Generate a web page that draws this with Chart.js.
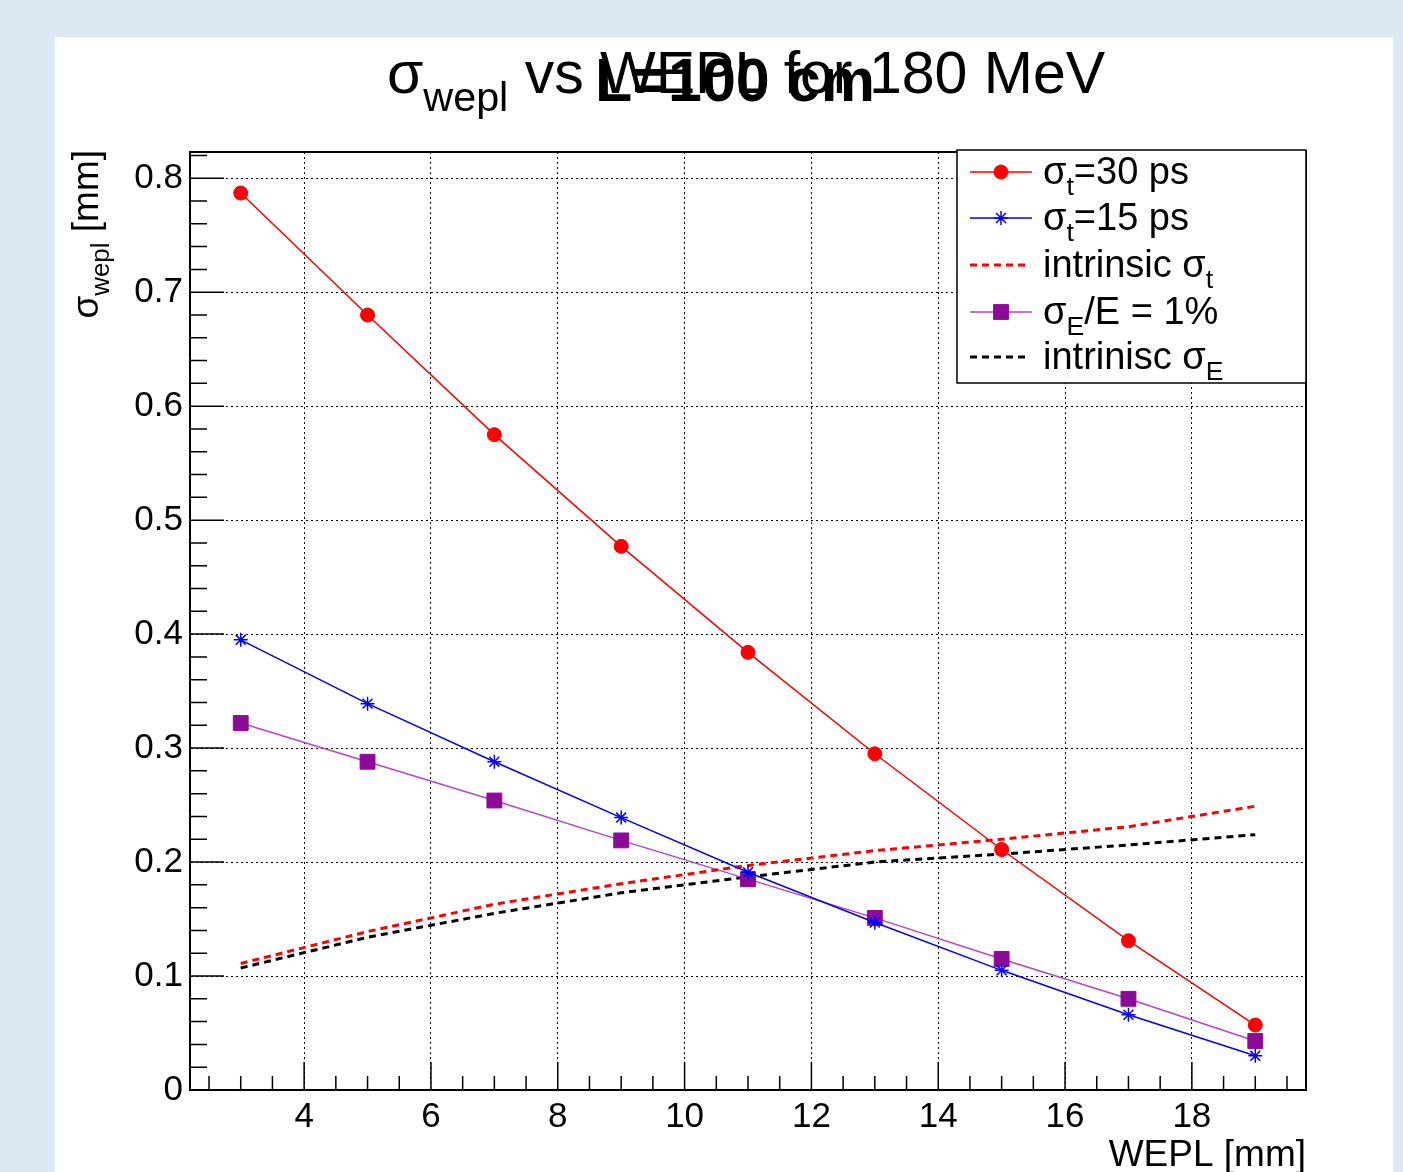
<!DOCTYPE html>
<html>
<head>
<meta charset="utf-8">
<script src="https://cdn.jsdelivr.net/npm/chart.js@4"></script>
<style>
  html, body { margin: 0; padding: 0; background: #dde8f4; }
  #wrap { position: relative; width: 1403px; height: 1172px; }
</style>
</head>
<body>
<div id="wrap"><canvas id="c" width="1403" height="1172"></canvas></div>
<script>
const FONT = "'Liberation Sans', Arial, Helvetica, sans-serif";

// values
const wepl = [3, 5, 7, 9, 11, 13, 15, 17, 19];
const sigma30ps = [0.787, 0.680, 0.575, 0.477, 0.384, 0.295, 0.211, 0.131, 0.057];
const sigma15ps = [0.395, 0.339, 0.288, 0.239, 0.191, 0.147, 0.105, 0.066, 0.030];
const intrinsicT = [0.111, 0.139, 0.163, 0.181, 0.197, 0.210, 0.220, 0.231, 0.249];
const sigmaE1pct = [0.322, 0.288, 0.254, 0.219, 0.185, 0.151, 0.115, 0.080, 0.043];
const intrinsicE = [0.107, 0.134, 0.155, 0.173, 0.187, 0.200, 0.207, 0.215, 0.224];

const xTicks = [4, 6, 8, 10, 12, 14, 16, 18];
const yTicks = [0, 0.1, 0.2, 0.3, 0.4, 0.5, 0.6, 0.7, 0.8];

// legend text, pieces marked sub are subscripts
const legendText = [
  [['σ'], ['t', 'sub'], ['=30 ps']],
  [['σ'], ['t', 'sub'], ['=15 ps']],
  [['intrinsic σ'], ['t', 'sub']],
  [['σ'], ['E', 'sub'], ['/E = 1%']],
  [['intrinisc σ'], ['E', 'sub']]
];

const pts = vals => wepl.map((x, i) => ({ x: x, y: vals[i] }));

// draw text made of normal + subscript pieces
function richWidth(ctx, parts, size, weight) {
  let w = 0;
  parts.forEach(p => {
    const s = p[1] === 'sub' ? size * 0.7 : size;
    ctx.font = (weight || '') + ' ' + s + 'px ' + FONT;
    w += ctx.measureText(p[0]).width;
  });
  return w;
}
function drawRich(ctx, parts, x, y, size, weight) {
  parts.forEach(p => {
    const sub = p[1] === 'sub';
    const s = sub ? size * 0.7 : size;
    ctx.font = (weight || '') + ' ' + s + 'px ' + FONT;
    ctx.fillText(p[0], x, sub ? y + size * 0.3 : y);
    x += ctx.measureText(p[0]).width;
  });
}

const background = {
  id: 'background',
  beforeDraw(chart) {
    const ctx = chart.ctx;
    ctx.save();
    ctx.fillStyle = '#dde8f4';
    ctx.fillRect(0, 0, chart.width, chart.height);
    ctx.fillStyle = '#fff';
    ctx.fillRect(55, 37, 1338, 1135);
    ctx.restore();
  }
};

const decorations = {
  id: 'decorations',
  afterDraw(chart) {
    const { ctx, chartArea: a, scales: { x, y } } = chart;
    ctx.save();

    // tick marks inside the frame
    ctx.strokeStyle = '#000';
    ctx.lineWidth = 1.5;
    ctx.beginPath();
    for (let k = 0; k <= 41; k++) {
      const py = y.getPixelForValue(k * 0.02);
      const len = k % 5 === 0 ? 34 : 17;
      ctx.moveTo(a.left, py);
      ctx.lineTo(a.left + len, py);
    }
    for (let k = 5; k <= 39; k++) {
      const px = x.getPixelForValue(k * 0.5);
      const len = k % 4 === 0 ? 28 : 14;
      ctx.moveTo(px, a.bottom);
      ctx.lineTo(px, a.bottom - len);
    }
    ctx.stroke();

    // frame
    ctx.lineWidth = 2;
    ctx.strokeRect(a.left, a.top, a.right - a.left, a.bottom - a.top);

    // axis titles
    ctx.fillStyle = '#000';
    ctx.textBaseline = 'alphabetic';
    ctx.font = '37px ' + FONT;
    ctx.textAlign = 'right';
    ctx.fillText('WEPL [mm]', a.right, 1166);
    ctx.textAlign = 'left';

    const yTitle = [['σ'], ['wepl', 'sub'], [' [mm]']];
    ctx.save();
    ctx.translate(98, a.top - 2);
    ctx.rotate(-Math.PI / 2);
    drawRich(ctx, yTitle, -richWidth(ctx, yTitle, 37), 0, 37);
    ctx.restore();

    // title with overprinted label
    const title = [['σ'], ['wepl', 'sub'], [' vs WEPL for 180 MeV']];
    const tw = richWidth(ctx, title, 59);
    drawRich(ctx, title, 746 - tw / 2, 93, 59);
    ctx.font = 'bold 61px ' + FONT;
    ctx.textAlign = 'center';
    ctx.fillText('L=100 cm', 735, 101);
    ctx.textAlign = 'left';

    // legend box
    const lx = 957, ly = 150, lw = 349, lh = 233;
    ctx.fillStyle = '#fff';
    ctx.fillRect(lx, ly, lw, lh);
    ctx.lineWidth = 1.5;
    ctx.strokeStyle = '#000';
    ctx.strokeRect(lx, ly, lw, lh);
    const rows = [172, 218, 265, 312, 357];
    chart.data.datasets.forEach((ds, i) => {
      const cy = rows[i];
      ctx.save();
      ctx.strokeStyle = ds.borderColor;
      ctx.lineWidth = ds.borderWidth;
      ctx.setLineDash(ds.borderDash || []);
      ctx.beginPath();
      ctx.moveTo(970, cy);
      ctx.lineTo(ds.borderDash ? 1028 : 1032, cy);
      ctx.stroke();
      ctx.restore();
      if (ds.pointRadius > 0) {
        ctx.save();
        ctx.fillStyle = ds.pointBackgroundColor;
        ctx.strokeStyle = ds.pointBorderColor;
        ctx.lineWidth = ds.pointBorderWidth;
        Chart.helpers.drawPoint(ctx, { pointStyle: ds.pointStyle, rotation: 0, radius: ds.pointRadius, borderWidth: ds.pointBorderWidth }, 1001, cy);
        ctx.restore();
      }
      ctx.fillStyle = '#000';
      drawRich(ctx, legendText[i], 1043, cy + 12, 38);
    });

    ctx.restore();
  }
};

Chart.defaults.font.family = FONT;
Chart.defaults.color = '#000';

new Chart(document.getElementById('c'), {
  type: 'line',
  data: {
    datasets: [
      {
        label: 'sigma_t=30 ps', data: pts(sigma30ps),
        borderColor: '#ff0000', borderWidth: 1.5,
        pointStyle: 'circle', pointRadius: 7,
        pointBackgroundColor: '#ff0000', pointBorderColor: '#ff0000', pointBorderWidth: 1
      },
      {
        label: 'sigma_t=15 ps', data: pts(sigma15ps),
        borderColor: '#0000ff', borderWidth: 1.5,
        pointStyle: 'star', pointRadius: 7,
        pointBackgroundColor: '#0000ff', pointBorderColor: '#0000ff', pointBorderWidth: 1.5
      },
      {
        label: 'intrinsic sigma_t', data: pts(intrinsicT),
        borderColor: '#ff0000', borderWidth: 3, borderDash: [7, 5],
        pointRadius: 0
      },
      {
        label: 'sigma_E/E = 1%', data: pts(sigmaE1pct),
        borderColor: '#b845c8', borderWidth: 1.5,
        pointStyle: 'rect', pointRadius: 10.5,
        pointBackgroundColor: '#8d0a99', pointBorderColor: '#8d0a99', pointBorderWidth: 1
      },
      {
        label: 'intrinisc sigma_E', data: pts(intrinsicE),
        borderColor: '#000000', borderWidth: 3, borderDash: [7, 5],
        pointRadius: 0
      }
    ]
  },
  options: {
    responsive: false,
    animation: false,
    devicePixelRatio: 1,
    layout: { padding: { top: 152, right: 97, left: 0, bottom: 0 } },
    plugins: { legend: { display: false }, title: { display: false }, tooltip: { enabled: false } },
    elements: { line: { tension: 0 } },
    scales: {
      x: {
        type: 'linear', min: 2.2, max: 19.8,
        afterBuildTicks: s => { s.ticks = xTicks.map(v => ({ value: v })); },
        afterFit: s => { s.height = 82; },
        ticks: { font: { size: 35 }, color: '#000', padding: 6, maxRotation: 0, autoSkip: false },
        grid: { color: '#000', lineWidth: 1, drawTicks: false },
        border: { display: true, color: '#000', width: 2, dash: [2, 3] }
      },
      y: {
        type: 'linear', min: 0, max: 0.823,
        afterBuildTicks: s => { s.ticks = yTicks.map(v => ({ value: v })); },
        afterFit: s => { s.width = 190; },
        ticks: {
          font: { size: 35 }, color: '#000', padding: 7, autoSkip: false,
          callback: v => v === 0 ? '0' : v.toFixed(1)
        },
        grid: { color: '#000', lineWidth: 1, drawTicks: false },
        border: { display: true, color: '#000', width: 2, dash: [2, 3] }
      }
    }
  },
  plugins: [background, decorations]
});
</script>
</body>
</html>
